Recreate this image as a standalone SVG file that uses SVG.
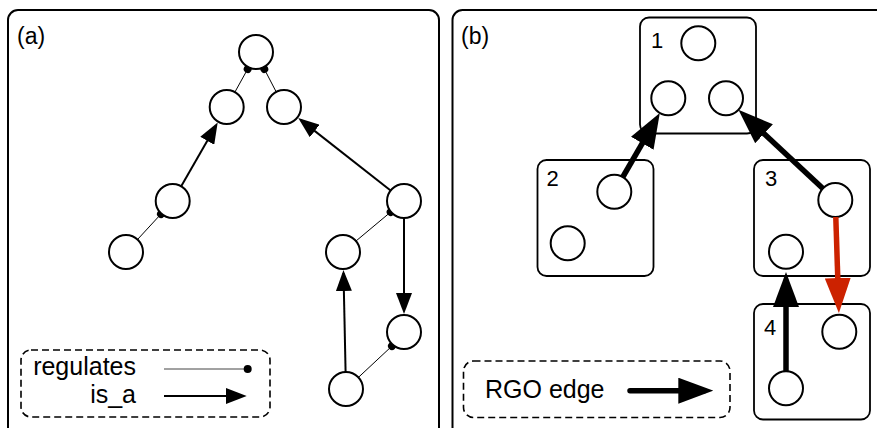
<svg xmlns="http://www.w3.org/2000/svg" width="877" height="428" viewBox="0 0 877 428">
<style>
text{font-family:"Liberation Sans",Arial,Helvetica,sans-serif;fill:#000}
.lbl{font-size:23px}
.num{font-size:22px}
.leg{font-size:25px}
.panel{fill:#fff;stroke:#000;stroke-width:2}
.box{fill:none;stroke:#000;stroke-width:1.8}
.dash{fill:none;stroke:#000;stroke-width:1.6;stroke-dasharray:7 4}
.n{fill:#fff;stroke:#000;stroke-width:2}
.reg{stroke:#000;stroke-width:1;fill:none;marker-end:url(#dot)}
.isa{stroke:#000;stroke-width:2;fill:none;marker-end:url(#tri)}
.rgo{stroke:#000;stroke-width:5.5;fill:none;marker-end:url(#big)}
.rgo.red{stroke:#cc2200;marker-end:url(#bigred)}
</style>
<defs>
<marker id="dot" markerUnits="userSpaceOnUse" markerWidth="10" markerHeight="10" refX="5" refY="5" orient="auto"><circle cx="5" cy="5" r="4" fill="#000"/></marker>
<marker id="tri" markerUnits="userSpaceOnUse" markerWidth="22" markerHeight="16" refX="18" refY="8" orient="auto"><path d="M0,0 L21,8 L0,16 z" fill="#000"/></marker>
<marker id="big" markerUnits="userSpaceOnUse" markerWidth="35" markerHeight="26" refX="26" refY="13" orient="auto"><path d="M0,0 L35,13 L0,26 z" fill="#000"/></marker>
<marker id="bigred" markerUnits="userSpaceOnUse" markerWidth="35" markerHeight="26" refX="26" refY="13" orient="auto"><path d="M0,0 L35,13 L0,26 z" fill="#cc2200"/></marker>
</defs>

<g id="panel-a">
<rect class="panel" x="8" y="10" width="431" height="440" rx="10"/>
<text class="lbl" x="17" y="44">(a)</text>
</g>
<g id="panel-b">
<rect class="panel" x="452.5" y="10" width="450" height="440" rx="10"/>
<text class="lbl" x="461" y="44">(b)</text>
</g>

<g id="connectors-a">
<line class="reg" x1="234.9" y1="92.1" x2="247.7" y2="69"/>
<line class="reg" x1="276.2" y1="91.9" x2="264.3" y2="69"/>
<line class="reg" x1="137.5" y1="239.5" x2="161" y2="214"/>
<line class="reg" x1="356" y1="241" x2="390.7" y2="212"/>
<line class="reg" x1="358.4" y1="377.4" x2="392" y2="346"/>
<line class="isa" x1="181.2" y1="186.3" x2="216.2" y2="125.2"/>
<line class="isa" x1="390.6" y1="190.5" x2="300.6" y2="119.9"/>
<line class="isa" x1="404" y1="218" x2="404" y2="311"/>
<line class="isa" x1="345.6" y1="372" x2="343.5" y2="273"/>
</g>

<g id="nodes-a">
<g id="a1"><circle class="n" cx="256" cy="52" r="17"/></g>
<g id="a2"><circle class="n" cx="226.7" cy="107" r="17"/></g>
<g id="a3"><circle class="n" cx="284" cy="107" r="17"/></g>
<g id="a4"><circle class="n" cx="172.7" cy="201" r="17"/></g>
<g id="a5"><circle class="n" cx="126" cy="252" r="17"/></g>
<g id="a6"><circle class="n" cx="404" cy="201" r="17"/></g>
<g id="a7"><circle class="n" cx="343" cy="252" r="17"/></g>
<g id="a8"><circle class="n" cx="404" cy="332" r="17"/></g>
<g id="a9"><circle class="n" cx="346" cy="389" r="17"/></g>
</g>

<g id="legend-a">
<rect class="dash" x="21" y="350" width="249" height="67" rx="10"/>
<text class="leg" x="136" y="375" text-anchor="end">regulates</text>
<text class="leg" x="136" y="403" text-anchor="end">is_a</text>
<line class="reg" x1="164" y1="369" x2="247.7" y2="369" style="stroke:#444"/>
<line class="isa" x1="164" y1="396" x2="243.7" y2="396"/>
</g>

<g id="box1">
<rect class="box" x="640" y="17.5" width="116" height="116" rx="9"/>
<text class="num" x="651" y="48">1</text>
<circle class="n" cx="698.3" cy="43.3" r="17"/>
<circle class="n" cx="668.3" cy="98.3" r="17"/>
<circle class="n" cx="726" cy="98.3" r="17"/>
</g>
<g id="box2">
<rect class="box" x="537.5" y="160" width="116" height="116" rx="9"/>
<text class="num" x="546.5" y="186">2</text>
<circle class="n" cx="614.3" cy="191.7" r="17"/>
<circle class="n" cx="567.7" cy="243.3" r="17"/>
</g>
<g id="box3">
<rect class="box" x="754" y="160" width="116" height="116" rx="9"/>
<text class="num" x="765" y="186">3</text>
<circle class="n" cx="835.3" cy="200" r="17"/>
<circle class="n" cx="786" cy="251.7" r="17"/>
</g>
<g id="box4">
<rect class="box" x="754" y="304" width="116" height="115.5" rx="9"/>
<text class="num" x="764" y="335">4</text>
<circle class="n" cx="839.3" cy="331.7" r="17"/>
<circle class="n" cx="786" cy="388.3" r="17"/>
</g>

<g id="connectors-b">
<line class="rgo" x1="622.8" y1="177" x2="655.3" y2="120.8"/>
<line class="rgo" x1="822.9" y1="188.4" x2="745" y2="116"/>
<line class="rgo red" x1="835.8" y1="217" x2="838.6" y2="304"/>
<line class="rgo" x1="786" y1="371" x2="786" y2="281"/>
</g>

<g id="legend-b">
<rect class="dash" x="463.5" y="361" width="266.5" height="56.5" rx="10"/>
<text class="leg" x="485" y="398">RGO edge</text>
<line class="rgo" x1="630" y1="390.7" x2="704.3" y2="390.7" style="stroke-linecap:round"/>
</g>
</svg>
